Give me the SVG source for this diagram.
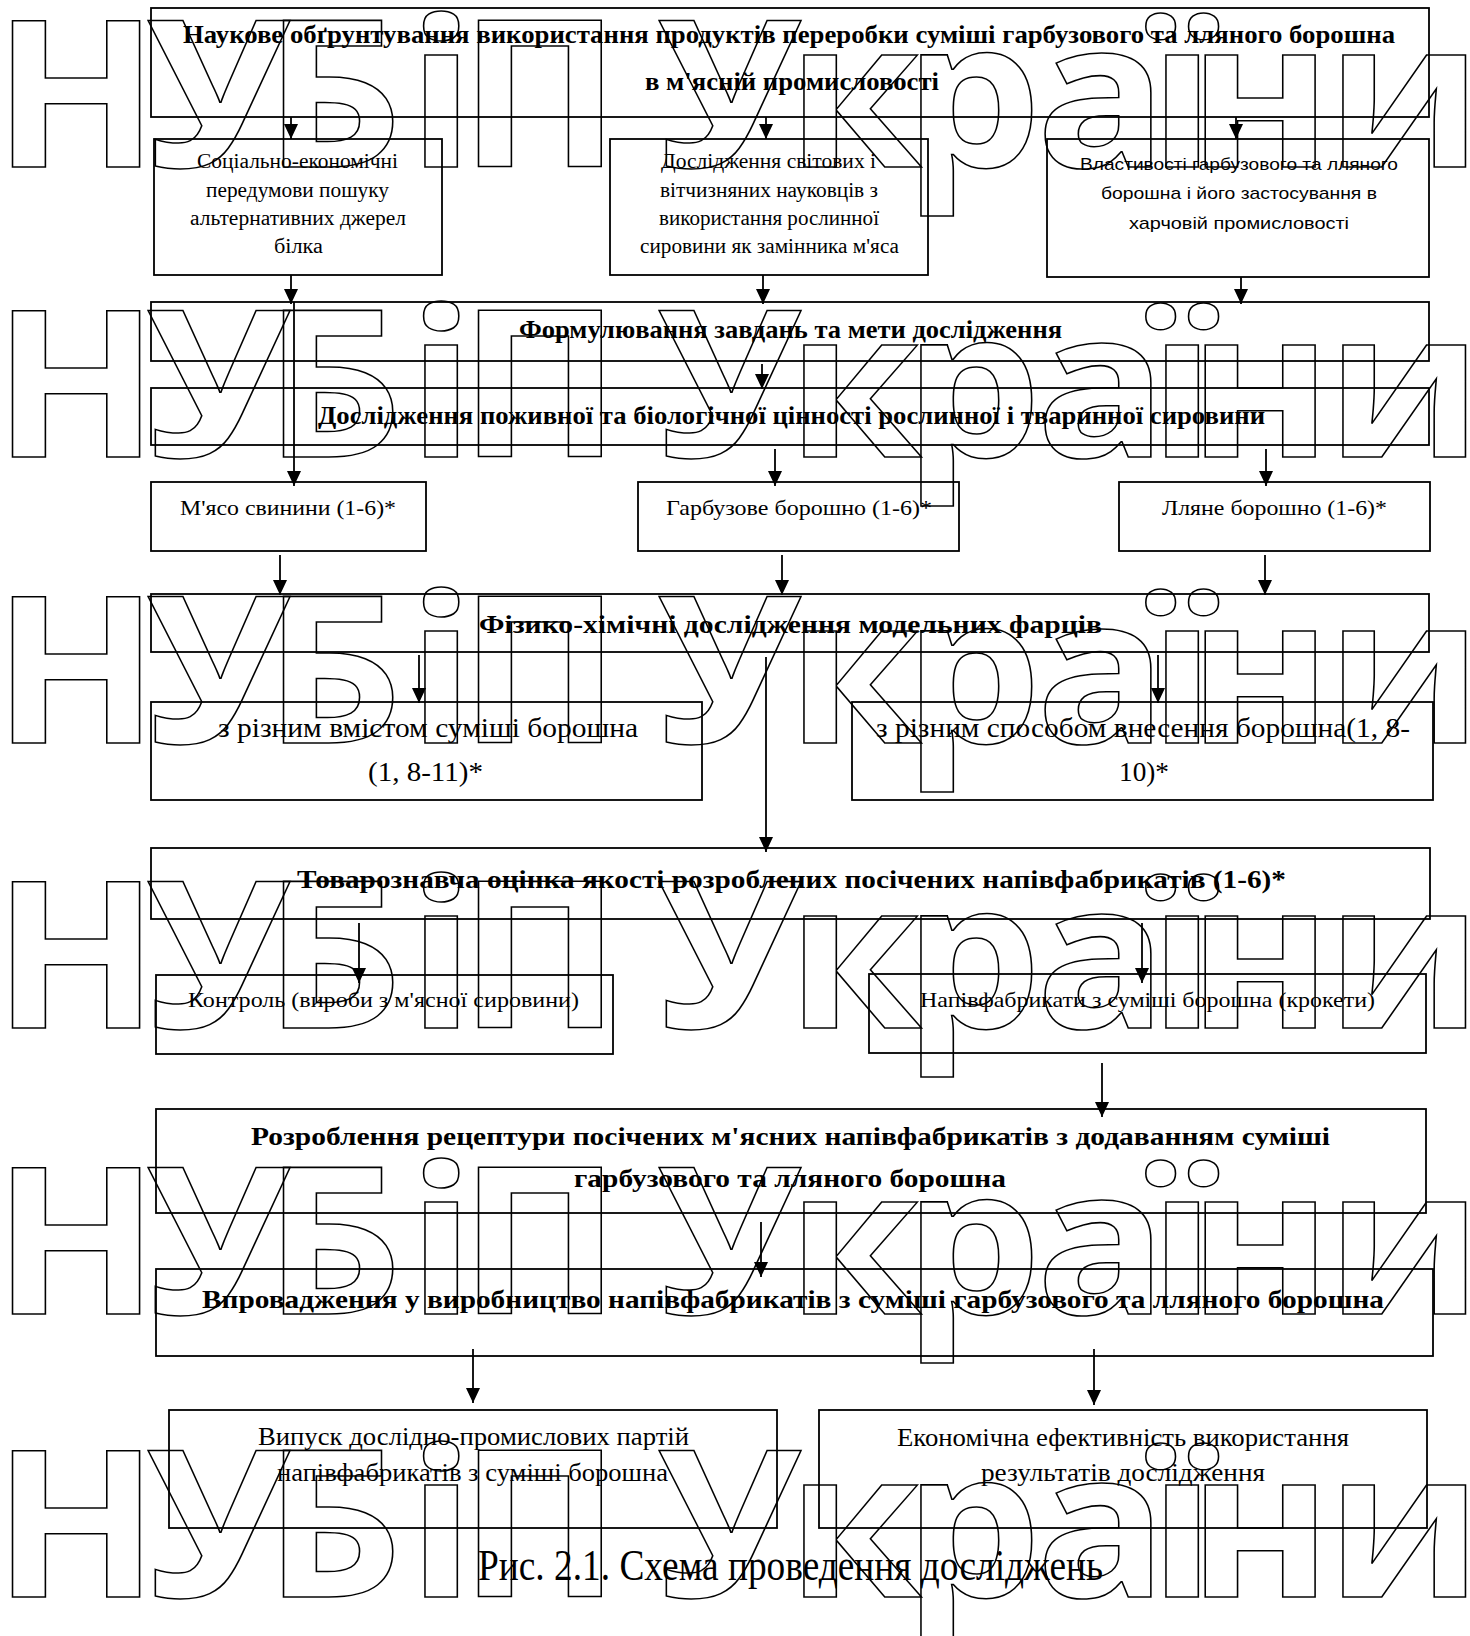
<svg xmlns="http://www.w3.org/2000/svg" width="1470" height="1636" viewBox="0 0 1470 1636">
<style>
.box{fill:none;stroke:#000;stroke-width:1.8}
.t{font-family:"Liberation Serif","Times New Roman",serif;fill:#000}
.b{font-weight:bold;font-size:26px}
.r20{font-size:20px}
.r22{font-size:22px}
.r25{font-size:25px}
.r27{font-size:27px}
.s{font-family:"Liberation Sans",Arial,sans-serif;font-size:17px;fill:#000}
.cap{font-size:44px}
.con{stroke:#000;stroke-width:1.8;fill:none;marker-end:url(#ah)}
.wm{font-family:"Open Sans","DejaVu Sans",sans-serif;font-weight:bold;font-size:205px;fill:none;stroke:#000;stroke-width:1.5}
</style>
<defs>
<marker id="ah" markerUnits="userSpaceOnUse" markerWidth="16" markerHeight="14" refX="15" refY="7" orient="auto">
<path d="M0,0 L15,7 L0,14 z" fill="#000"/>
</marker>
</defs>
<rect width="1470" height="1636" fill="#fff"/>

<g id="n-title">
<rect class="box" x="151" y="8" width="1278" height="109"/>
<text class="t b" x="183" y="43" textLength="1212" lengthAdjust="spacingAndGlyphs">Наукове обґрунтування використання продуктів переробки суміші гарбузового та лляного борошна</text>
<text class="t b" x="645" y="90" textLength="294" lengthAdjust="spacingAndGlyphs">в м'ясній промисловості</text>
</g>
<g id="n-social">
<rect class="box" x="154" y="139" width="288" height="136"/>
<text class="t r20" x="197" y="168" textLength="201" lengthAdjust="spacingAndGlyphs">Соціально-економічні</text>
<text class="t r20" x="206" y="197" textLength="183" lengthAdjust="spacingAndGlyphs">передумови пошуку</text>
<text class="t r20" x="190" y="225" textLength="216" lengthAdjust="spacingAndGlyphs">альтернативних джерел</text>
<text class="t r20" x="274" y="253" textLength="49" lengthAdjust="spacingAndGlyphs">білка</text>
</g>
<g id="n-research">
<rect class="box" x="610" y="139" width="318" height="136"/>
<text class="t r20" x="661" y="168" textLength="215" lengthAdjust="spacingAndGlyphs">Дослідження світових і</text>
<text class="t r20" x="660" y="197" textLength="218" lengthAdjust="spacingAndGlyphs">вітчизняних науковців з</text>
<text class="t r20" x="659" y="225" textLength="220" lengthAdjust="spacingAndGlyphs">використання рослинної</text>
<text class="t r20" x="640" y="253" textLength="259" lengthAdjust="spacingAndGlyphs">сировини як замінника м'яса</text>
</g>
<g id="n-props">
<rect class="box" x="1047" y="139" width="382" height="138"/>
<text class="s" x="1080" y="170" textLength="318" lengthAdjust="spacingAndGlyphs">Властивості гарбузового та лляного</text>
<text class="s" x="1101" y="199" textLength="276" lengthAdjust="spacingAndGlyphs">борошна і його застосування в</text>
<text class="s" x="1129" y="229" textLength="220" lengthAdjust="spacingAndGlyphs">харчовій промисловості</text>
</g>
<g id="n-goals">
<rect class="box" x="151" y="302" width="1278" height="59"/>
<text class="t b" x="519" y="338" textLength="543" lengthAdjust="spacingAndGlyphs">Формулювання завдань та мети дослідження</text>
</g>
<g id="n-value">
<rect class="box" x="151" y="388" width="1278" height="57"/>
<text class="t b" x="318" y="424" textLength="947" lengthAdjust="spacingAndGlyphs">Дослідження поживної та біологічної цінності рослинної і тваринної сировини</text>
</g>
<g id="n-pork">
<rect class="box" x="151" y="482" width="275" height="69"/>
<text class="t r22" x="180" y="515" textLength="216" lengthAdjust="spacingAndGlyphs">М'ясо свинини (1-6)*</text>
</g>
<g id="n-pumpkin">
<rect class="box" x="638" y="482" width="321" height="69"/>
<text class="t r22" x="666" y="515" textLength="266" lengthAdjust="spacingAndGlyphs">Гарбузове борошно (1-6)*</text>
</g>
<g id="n-flax">
<rect class="box" x="1119" y="482" width="311" height="69"/>
<text class="t r22" x="1162" y="515" textLength="225" lengthAdjust="spacingAndGlyphs">Лляне борошно (1-6)*</text>
</g>
<g id="n-physchem">
<rect class="box" x="151" y="594" width="1278" height="58"/>
<text class="t b" x="479" y="633" textLength="623" lengthAdjust="spacingAndGlyphs">Фізико-хімічні дослідження модельних фарців</text>
</g>
<g id="n-content">
<rect class="box" x="151" y="702" width="551" height="98"/>
<text class="t r27" x="218" y="737" textLength="420" lengthAdjust="spacingAndGlyphs">з різним вмістом суміші борошна</text>
<text class="t r27" x="368" y="781" textLength="115" lengthAdjust="spacingAndGlyphs">(1, 8-11)*</text>
</g>
<g id="n-method">
<rect class="box" x="852" y="702" width="581" height="98"/>
<text class="t r27" x="876" y="737" textLength="534" lengthAdjust="spacingAndGlyphs">з різним способом внесення борошна(1, 8-</text>
<text class="t r27" x="1119" y="781" textLength="50" lengthAdjust="spacingAndGlyphs">10)*</text>
</g>
<g id="n-quality">
<rect class="box" x="151" y="848" width="1279" height="71"/>
<text class="t b" x="297" y="888" textLength="989" lengthAdjust="spacingAndGlyphs">Товарознавча оцінка якості розроблених посічених напівфабрикатів (1-6)*</text>
</g>
<g id="n-control">
<rect class="box" x="156" y="975" width="457" height="79"/>
<text class="t r22" x="188" y="1007" textLength="391" lengthAdjust="spacingAndGlyphs">Контроль (вироби з м'ясної сировини)</text>
</g>
<g id="n-croquettes">
<rect class="box" x="869" y="974" width="557" height="79"/>
<text class="t r22" x="920" y="1007" textLength="455" lengthAdjust="spacingAndGlyphs">Напівфабрикати з суміші борошна (крокети)</text>
</g>
<g id="n-recipe">
<rect class="box" x="156" y="1109" width="1270" height="104"/>
<text class="t b" x="251" y="1145" textLength="1079" lengthAdjust="spacingAndGlyphs">Розроблення рецептури посічених м'ясних напівфабрикатів з додаванням суміші</text>
<text class="t b" x="574" y="1187" textLength="432" lengthAdjust="spacingAndGlyphs">гарбузового та лляного борошна</text>
</g>
<g id="n-implement">
<rect class="box" x="156" y="1269" width="1277" height="87"/>
<text class="t b" x="202" y="1308" textLength="1182" lengthAdjust="spacingAndGlyphs">Впровадження у виробництво напівфабрикатів з суміші гарбузового та лляного борошна</text>
</g>
<g id="n-batches">
<rect class="box" x="169" y="1410" width="608" height="118"/>
<text class="t r25" x="258" y="1445" textLength="431" lengthAdjust="spacingAndGlyphs">Випуск дослідно-промислових партій</text>
<text class="t r25" x="277" y="1481" textLength="391" lengthAdjust="spacingAndGlyphs">напівфабрикатів з суміші борошна</text>
</g>
<g id="n-economy">
<rect class="box" x="819" y="1410" width="608" height="118"/>
<text class="t r25" x="897" y="1446" textLength="452" lengthAdjust="spacingAndGlyphs">Економічна ефективність використання</text>
<text class="t r25" x="981" y="1481" textLength="284" lengthAdjust="spacingAndGlyphs">результатів дослідження</text>
</g>

<g id="connectors">
<line class="con" x1="291" y1="117" x2="291" y2="139"/>
<line class="con" x1="766" y1="117" x2="766" y2="139"/>
<line class="con" x1="1236" y1="117" x2="1236" y2="139"/>
<line class="con" x1="291" y1="275" x2="291" y2="304"/>
<line class="con" x1="763" y1="275" x2="763" y2="304"/>
<line class="con" x1="1241" y1="277" x2="1241" y2="304"/>
<line class="con" x1="294" y1="302" x2="294" y2="486"/>
<line class="con" x1="762" y1="364" x2="762" y2="389"/>
<line class="con" x1="775" y1="449" x2="775" y2="486"/>
<line class="con" x1="1266" y1="449" x2="1266" y2="486"/>
<line class="con" x1="280" y1="555" x2="280" y2="595"/>
<line class="con" x1="782" y1="555" x2="782" y2="595"/>
<line class="con" x1="1265" y1="555" x2="1265" y2="595"/>
<line class="con" x1="419" y1="655" x2="419" y2="703"/>
<line class="con" x1="1158" y1="655" x2="1158" y2="703"/>
<line class="con" x1="766" y1="657" x2="766" y2="852"/>
<line class="con" x1="359" y1="923" x2="359" y2="983"/>
<line class="con" x1="1142" y1="923" x2="1142" y2="983"/>
<line class="con" x1="1102" y1="1063" x2="1102" y2="1117"/>
<line class="con" x1="761" y1="1222" x2="761" y2="1277"/>
<line class="con" x1="473" y1="1349" x2="473" y2="1403"/>
<line class="con" x1="1094" y1="1349" x2="1094" y2="1405"/>
</g>

<text id="caption" class="t cap" x="478" y="1580" textLength="625" lengthAdjust="spacingAndGlyphs">Рис. 2.1. Схема проведення досліджень</text>

<g id="watermark" transform="scale(1.06,1)">
<text class="wm" x="-6.6 137.7 249 384.9 433 566 619.8 742.5 852.8 977.4 1084 1121 1250.9" y="167">НУБіП України</text>
<text class="wm" x="-6.6 137.7 249 384.9 433 566 619.8 742.5 852.8 977.4 1084 1121 1250.9" y="457">НУБіП України</text>
<text class="wm" x="-6.6 137.7 249 384.9 433 566 619.8 742.5 852.8 977.4 1084 1121 1250.9" y="743">НУБіП України</text>
<text class="wm" x="-6.6 137.7 249 384.9 433 566 619.8 742.5 852.8 977.4 1084 1121 1250.9" y="1028">НУБіП України</text>
<text class="wm" x="-6.6 137.7 249 384.9 433 566 619.8 742.5 852.8 977.4 1084 1121 1250.9" y="1314">НУБіП України</text>
<text class="wm" x="-6.6 137.7 249 384.9 433 566 619.8 742.5 852.8 977.4 1084 1121 1250.9" y="1597">НУБіП України</text>
</g>
</svg>
